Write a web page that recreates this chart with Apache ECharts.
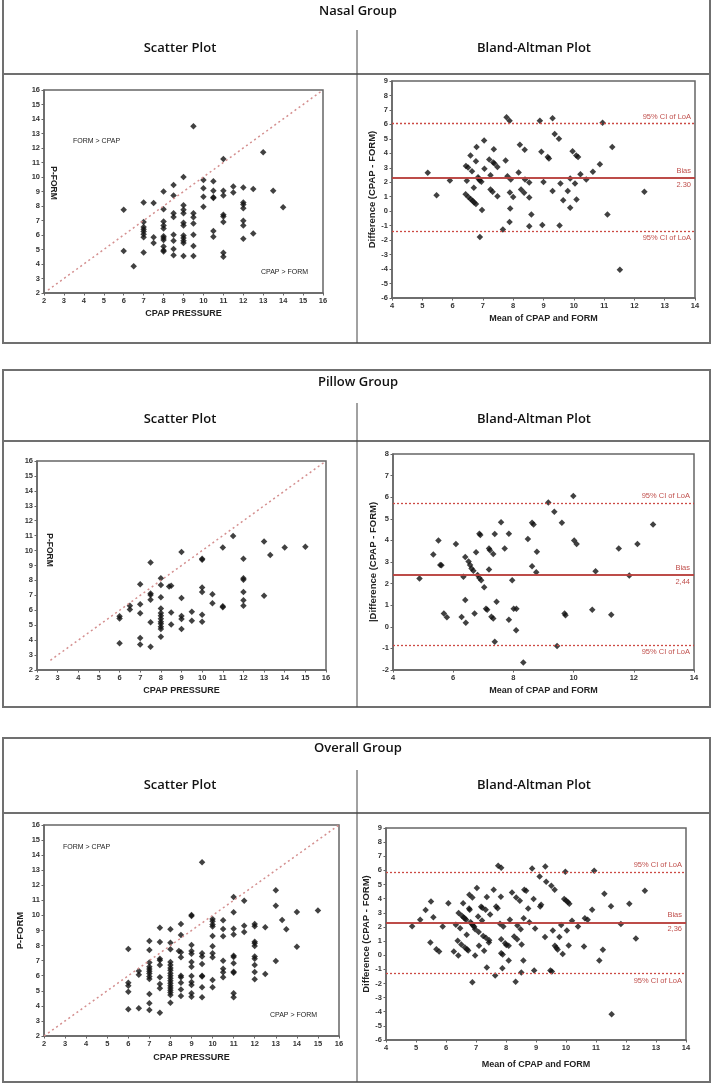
<!DOCTYPE html>
<html><head><meta charset="utf-8">
<script src="https://cdn.jsdelivr.net/npm/echarts/dist/echarts.min.js"></script>
<style>html,body{margin:0;padding:0;background:#fff}#c{width:712px;height:1085px}</style>
</head><body><div id="c"></div><script>
// ---------- DATA ----------
const groupTitles = ['Nasal Group', 'Pillow Group', 'Overall Group'];
const panelTitles = ['Scatter Plot', 'Bland-Altman Plot'];

const nasalScatter = [
[6,7.75],[6,4.9],[6.5,3.85],
[7,8.25],[7,6.9],[7,6.55],[7,6.4],[7,6.25],[7,6.05],[7,5.85],[7,4.8],
[7.5,8.2],[7.5,5.85],[7.5,5.45],
[8,9.0],[8,7.78],[8,6.93],[8,6.65],[8,6.45],[8,5.92],[8,5.8],[8,5.65],[8,5.2],[8,4.95],[8,4.87],
[8.5,9.45],[8.5,8.72],[8.5,7.5],[8.5,7.25],[8.5,6.02],[8.5,5.6],[8.5,5.03],[8.5,4.6],
[9,10.0],[9,8.05],[9,7.75],[9,7.5],[9,6.85],[9,6.65],[9,5.97],[9,5.8],[9,5.6],[9,5.45],[9,4.55],
[9.5,13.5],[9.5,7.5],[9.5,7.23],[9.5,6.8],[9.5,6.02],[9.5,5.24],[9.5,4.55],
[10,9.8],[10,9.23],[10,8.63],[10,7.95],
[10.5,9.7],[10.5,9.05],[10.5,8.6],[10.5,8.55],[10.5,6.27],[10.5,5.88],
[11,11.25],[11,9.05],[11,8.72],[11,7.4],[11,7.28],[11,6.9],[11,4.78],[11,4.5],
[11.5,9.35],[11.5,8.93],
[12,9.28],[12,8.25],[12,8.1],[12,7.85],[12,6.98],[12,6.66],[12,5.74],
[12.5,9.18],[12.5,6.1],
[13,11.7],[13.5,9.05],[14,7.92]
];
const nasalBA = [
[5.18,2.65],[5.47,1.11],[5.91,2.13],[6.44,3.12],[6.51,3.02],[6.47,2.1],[6.43,1.18],[6.52,0.99],
[6.59,3.85],[6.64,2.77],[6.6,0.83],[6.66,0.72],[6.71,0.6],[6.77,0.49],[6.77,3.46],[6.79,4.43],
[6.7,1.62],[6.84,2.35],[6.86,2.22],[6.9,2.12],[6.95,2.03],[6.97,0.09],[6.9,-1.78],[7.04,4.89],
[7.05,2.93],[7.21,3.58],[7.25,2.49],[7.25,1.5],[7.32,1.34],[7.36,4.29],[7.34,3.37],[7.38,3.3],
[7.48,3.05],[7.48,1.04],[7.66,-1.27],[7.75,3.51],[7.78,6.49],[7.88,6.25],[7.81,2.42],[7.92,2.19],
[7.89,1.29],[7.9,0.18],[7.88,-0.74],[8.0,0.99],[8.18,2.68],[8.22,4.59],[8.26,1.5],[8.36,1.27],
[8.38,4.25],[8.39,2.19],[8.53,1.98],[8.53,0.95],[8.53,-1.04],[8.6,-0.23],[8.88,6.25],[8.93,4.11],
[9.0,2.01],[8.96,-0.95],[9.3,6.42],[9.37,5.33],[9.3,1.39],[9.14,3.74],[9.18,3.65],[9.51,5.01],
[9.56,1.92],[9.53,-0.99],[9.65,0.76],[9.8,1.39],[9.88,2.26],[9.88,0.23],[9.96,4.15],[10.04,1.92],
[10.08,3.85],[10.14,3.74],[10.09,0.81],[10.22,2.56],[10.41,2.19],[10.63,2.72],[10.86,3.25],
[10.95,6.12],[11.27,4.43],[11.11,-0.23],[11.52,-4.04],[12.33,1.34]
];
const nasalLimits = [6.05, 2.31, -1.38];   // upper LoA, bias, lower LoA
const nasalBiasText = '2.30';

const pillowScatter = [
[6,5.6],[6,5.45],[6,3.8],
[6.5,6.3],[6.5,6.05],
[7,7.75],[7,6.4],[7,5.8],[7,4.15],[7,3.7],
[7.5,9.2],[7.5,7.12],[7.5,7.02],[7.5,6.7],[7.5,5.2],[7.5,3.55],
[8,8.15],[8,7.7],[8,6.87],[8,6.12],[8,5.82],[8,5.64],[8,5.44],[8,5.24],[8,5.09],[8,4.9],[8,4.75],[8,4.22],
[8.4,7.6],[8.5,7.65],[8.5,5.85],[8.5,5.05],
[9,9.9],[9,6.82],[9,5.62],[9,5.42],[9,4.75],
[9.5,5.9],[9.5,5.3],
[10,9.45],[10,9.38],[10,7.52],[10,7.22],[10,5.7],[10,5.23],
[10.5,7.07],[10.5,6.47],
[11,10.2],[11,6.27],[11,6.2],
[11.5,10.97],
[12,9.45],[12,8.14],[12,8.05],[12,7.22],[12,6.67],[12,6.3],
[13,10.6],[13,6.98],
[13.3,9.7],[14,10.2],[15,10.25]
];
const pillowBA = [
[4.88,2.24],[5.34,3.35],[5.51,3.99],[5.57,2.86],[5.61,2.85],[5.69,0.61],[5.79,0.44],[6.09,3.83],
[6.28,0.45],[6.34,2.32],[6.4,3.23],[6.4,1.24],[6.42,0.19],[6.51,3.02],[6.56,2.86],[6.61,2.7],
[6.67,2.6],[6.71,0.61],[6.76,3.45],[6.81,2.4],[6.87,4.31],[6.9,4.25],[6.87,2.26],[6.93,2.15],
[7.03,1.83],[7.09,0.84],[7.13,0.79],[7.19,3.62],[7.22,3.54],[7.19,2.65],[7.27,0.47],[7.33,0.39],
[7.33,3.37],[7.38,4.3],[7.38,-0.69],[7.44,1.16],[7.59,4.84],[7.71,3.62],[7.85,4.31],[7.85,0.33],
[8.01,0.84],[8.1,0.84],[7.96,2.15],[8.09,-0.16],[8.33,-1.65],[8.48,4.06],[8.62,2.8],[8.62,4.82],
[8.67,4.74],[8.76,2.52],[8.78,3.48],[9.16,5.75],[9.36,5.33],[9.45,-0.89],[9.61,4.82],[9.7,0.61],
[9.73,0.53],[9.99,6.06],[10.02,3.99],[10.1,3.83],[10.73,2.57],[10.62,0.79],[11.25,0.56],[11.5,3.62],
[11.85,2.38],[12.12,3.83],[12.64,4.74]
];
const pillowLimits = [5.73, 2.39, -0.86];
const pillowBiasText = '2,44';

const overallScatter = [
[6,7.77],[6,5.54],[6,5.34],[6,4.94],[6,3.77],
[6.5,6.31],[6.5,6.07],[6.5,3.84],
[7,8.3],[7,7.71],[7,6.87],[7,6.6],[7,6.45],[7,6.29],[7,6.14],[7,5.94],[7,5.78],[7,4.79],[7,4.17],[7,3.73],
[7.5,9.19],[7.5,8.24],[7.5,7.13],[7.5,7.02],[7.5,6.71],[7.5,5.89],[7.5,5.45],[7.5,5.16],[7.5,3.55],
[8,9.08],[8,8.19],[8,7.75],[8,6.91],[8,6.71],[8,6.51],[8,6.36],[8,6.16],[8,6.0],[8,5.83],[8,5.67],[8,5.5],[8,5.34],[8,5.19],[8,5.03],[8,4.88],[8,4.72],[8,4.21],
[8.5,9.43],[8.5,8.7],[8.4,7.64],[8.5,7.55],[8.5,7.22],[8.5,6.0],[8.5,5.89],[8.5,5.54],[8.5,5.08],[8.5,4.65],
[9,10.03],[9,9.96],[9,8.04],[9,7.64],[9,7.46],[9,6.91],[9,6.6],[9,5.98],[9,5.58],[9,5.38],[9,4.83],[9,4.61],
[9.5,13.53],[9.5,7.49],[9.5,7.27],[9.5,6.78],[9.5,6.0],[9.5,5.94],[9.5,5.23],[9.5,4.57],
[10,9.77],[10,9.61],[10,9.39],[10,9.26],[10,8.64],[10,7.95],[10,7.49],[10,7.22],[10,5.72],[10,5.23],
[10.5,9.68],[10.5,9.1],[10.5,8.62],[10.5,7.0],[10.5,6.47],[10.5,6.23],[10.5,5.89],
[11,11.23],[11,10.21],[11,9.12],[11,8.73],[11,7.33],[11,7.24],[11,6.82],[11,6.27],[11,6.2],[11,4.83],[11,4.57],
[11.5,10.98],[11.5,9.32],[11.5,8.9],
[12,9.43],[12,9.28],[12,8.26],[12,8.15],[12,7.97],[12,7.27],[12,7.13],[12,6.71],[12,6.25],[12,5.76],
[12.5,9.21],[12.5,6.12],
[13,11.67],[13,10.65],[13,6.98],
[13.3,9.7],[13.5,9.08],[14,10.23],[14,7.93],[15,10.32]
];
const overallBA = [
[4.87,2.05],[5.14,2.5],[5.32,3.19],[5.48,0.9],[5.5,3.8],[5.58,2.69],[5.68,0.42],[5.77,0.26],
[5.89,2.03],[6.08,3.68],[6.26,0.26],[6.33,2.15],[6.39,1.02],[6.41,-0.02],[6.42,2.98],[6.47,1.91],
[6.51,0.75],[6.57,3.68],[6.53,2.79],[6.59,2.67],[6.63,2.6],[6.67,2.5],[6.69,1.44],[6.63,0.54],
[6.7,0.42],[6.74,0.33],[6.77,3.31],[6.79,3.21],[6.78,4.28],[6.82,2.34],[6.86,2.2],[6.88,4.09],
[6.88,-1.91],[6.9,2.1],[6.94,2.01],[6.97,1.84],[6.97,-0.02],[7.03,4.75],[7.07,2.74],[7.09,1.65],
[7.1,0.66],[7.17,3.42],[7.21,3.35],[7.2,2.46],[7.24,1.35],[7.27,0.31],[7.32,3.21],[7.36,4.11],
[7.33,1.23],[7.36,-0.87],[7.44,1.06],[7.47,2.88],[7.43,0.9],[7.59,4.63],[7.64,-1.44],[7.67,3.45],
[7.72,3.33],[7.74,6.33],[7.8,2.22],[7.84,6.19],[7.83,4.13],[7.84,1.13],[7.84,0.14],[7.89,0.05],
[7.88,-0.92],[7.91,2.03],[7.97,0.85],[8.01,0.73],[8.09,0.66],[8.09,-0.38],[8.13,2.5],[8.2,4.44],
[8.27,1.32],[8.32,-1.87],[8.34,4.09],[8.37,1.13],[8.38,2.1],[8.46,3.85],[8.49,1.84],[8.52,0.75],
[8.51,-1.23],[8.58,-0.38],[8.59,2.62],[8.61,4.63],[8.67,4.56],[8.74,3.31],[8.78,2.34],[8.87,6.14],
[8.92,3.97],[8.97,1.89],[8.94,-1.09],[9.12,5.57],[9.17,3.57],[9.14,3.45],[9.3,1.28],[9.31,6.28],
[9.34,5.2],[9.48,-1.09],[9.53,-1.16],[9.51,4.91],[9.56,1.75],[9.62,4.63],[9.63,0.66],[9.68,0.52],
[9.72,0.4],[9.78,1.28],[9.84,2.13],[9.89,0.09],[9.94,3.97],[10.0,3.87],[10.06,3.76],[10.11,3.64],
[9.98,5.9],[10.03,1.75],[10.09,0.68],[10.2,2.43],[10.4,2.03],[10.6,0.61],[10.63,2.62],[10.72,2.5],
[10.87,3.21],[10.94,5.98],[11.11,-0.38],[11.23,0.38],[11.28,4.35],[11.5,3.47],[11.52,-4.18],
[11.83,2.2],[12.11,3.64],[12.33,1.18],[12.63,4.56]
];
const overallLimits = [5.9, 2.33, -1.3];
const overallBiasText = '2,36';

// identity-line endpoints (x = y) as drawn in each scatter panel
const nasalIdentity = [[2.2,2.2],[16,16]];
const pillowIdentity = [[2.65,2.65],[16,16]];
const overallIdentity = [[2,2],[16,16]];

// ---------- LAYOUT / STYLE ----------
const grids = [
  {left:44, top:90, width:279, height:203},
  {left:392, top:81, width:303, height:217},
  {left:37, top:461, width:289, height:209},
  {left:393, top:454, width:301, height:216},
  {left:44, top:825, width:295, height:211},
  {left:386, top:828, width:300, height:212}
];
const FONT = 'Liberation Sans';
const RED = '#c0504d';
const tickLbl = {fontFamily:FONT, fontSize:7.5, fontWeight:'bold', color:'#333', margin:4};
const axLine = {show:true, onZero:false, lineStyle:{color:'#666', width:1.5}};
const axTick = {show:true, length:2.5, lineStyle:{color:'#666'}};
const nameStyle = {fontFamily:FONT, fontSize:9, fontWeight:'bold', color:'#222'};

function xAx(gi, min, max, interval, name, gap){
  return {type:'value', gridIndex:gi, min, max, interval, name, nameLocation:'middle', nameGap:gap,
    nameTextStyle:nameStyle, axisLine:axLine, axisTick:axTick, axisLabel:tickLbl, splitLine:{show:false}};
}
function yAx(gi, min, max, interval, name, gap){
  return {type:'value', gridIndex:gi, min, max, interval, name, nameLocation:'middle', nameGap:gap,
    nameRotate:90, nameTextStyle:Object.assign({}, nameStyle, {fontSize:9.5}),
    axisLine:axLine, axisTick:axTick, axisLabel:tickLbl, splitLine:{show:false}};
}
function pts(i, data){
  return {type:'scatter', xAxisIndex:i, yAxisIndex:i, data, symbol:'diamond', symbolSize:6.5,
    itemStyle:{color:'#111'}, silent:true};
}
function identity(i, data){
  return {type:'line', xAxisIndex:i, yAxisIndex:i, data, symbol:'none', silent:true,
    lineStyle:{color:'#d48f8f', width:1.5, type:[2,3]}};
}
function baLines(i, lim, biasText){
  const lab = (t, pos) => ({show:true, formatter:t, position:pos, color:RED, fontFamily:FONT, fontSize:7.5, distance:[4,3]});
  const dash = {type:[2,2], color:'#cc4a44', width:1.3};
  const solid = {type:'solid', color:'#b8403e', width:1.5};
  return {type:'scatter', xAxisIndex:i, yAxisIndex:i, data:[], silent:true,
    markLine:{symbol:'none', silent:true, animation:false, data:[
      {yAxis:lim[0], lineStyle:dash, label:lab('95% CI of LoA','insideEndTop')},
      {yAxis:lim[1], lineStyle:solid, label:lab('Bias','insideEndTop')},
      {yAxis:lim[1], lineStyle:solid, label:lab(biasText,'insideEndBottom')},
      {yAxis:lim[2], lineStyle:dash, label:lab('95% CI of LoA','insideEndBottom')}
    ]}};
}

// ---------- FRAMES ----------
const frameColor = '#707070';
const boxes = [
  {top:-2, head:74, div:30, bottom:343, title:11, sub:48},
  {top:370, head:441, div:403, bottom:707, title:382, sub:419},
  {top:738, head:813, div:770, bottom:1082, title:748, sub:785}
];
const graphics = [];
boxes.forEach((b, k) => {
  graphics.push({type:'rect', shape:{x:3, y:b.top, width:707, height:b.bottom-b.top}, style:{fill:null, stroke:frameColor, lineWidth:2}, silent:true});
  graphics.push({type:'line', shape:{x1:3, y1:b.head, x2:710, y2:b.head}, style:{stroke:frameColor, lineWidth:2}, silent:true});
  graphics.push({type:'line', shape:{x1:357, y1:b.div, x2:357, y2:b.bottom}, style:{stroke:'#444', lineWidth:1}, silent:true});
  const tf = {fontFamily:'Open Sans', fontWeight:600, fontSize:13, fill:'#111', textAlign:'center', textVerticalAlign:'middle'};
  graphics.push({type:'text', x:358, y:b.title, style:Object.assign({text:groupTitles[k]}, tf), silent:true});
  graphics.push({type:'text', x:180, y:b.sub, style:Object.assign({text:panelTitles[0]}, tf), silent:true});
  graphics.push({type:'text', x:534, y:b.sub, style:Object.assign({text:panelTitles[1]}, tf), silent:true});
});
// in-plot annotations
const ann = {fontFamily:FONT, fontSize:7, fill:'#222'};
graphics.push({type:'text', x:73, y:141, style:Object.assign({text:'FORM > CPAP', textVerticalAlign:'middle'}, ann), silent:true});
graphics.push({type:'text', x:261, y:272, style:Object.assign({text:'CPAP > FORM', textVerticalAlign:'middle'}, ann), silent:true});
graphics.push({type:'text', x:63, y:847, style:Object.assign({text:'FORM > CPAP', textVerticalAlign:'middle'}, ann), silent:true});
graphics.push({type:'text', x:270, y:1015, style:Object.assign({text:'CPAP > FORM', textVerticalAlign:'middle'}, ann), silent:true});
// P-FORM labels drawn inside the plot (rotated clockwise)
const pf = {fontFamily:FONT, fontSize:8.5, fontWeight:'bold', fill:'#222', text:'P-FORM', textAlign:'center', textVerticalAlign:'middle'};
graphics.push({type:'text', x:53, y:183, rotation:-Math.PI/2, style:Object.assign({}, pf), silent:true});
graphics.push({type:'text', x:49, y:550, rotation:-Math.PI/2, style:Object.assign({}, pf), silent:true});

const option = {
  animation:false,
  backgroundColor:'#fff',
  grid: grids.map(g => Object.assign({show:true, borderColor:'#666', borderWidth:1.5, backgroundColor:'#fff'}, g)),
  xAxis: [
    xAx(0, 2, 16, 1, 'CPAP PRESSURE', 16),
    xAx(1, 4, 14, 1, 'Mean of CPAP and FORM', 16),
    xAx(2, 2, 16, 1, 'CPAP PRESSURE', 16),
    xAx(3, 4, 14, 2, 'Mean of CPAP and FORM', 16),
    xAx(4, 2, 16, 1, 'CPAP PRESSURE', 17),
    xAx(5, 4, 14, 1, 'Mean of CPAP and FORM', 20)
  ],
  yAxis: [
    yAx(0, 2, 16, 1, '', 0),
    yAx(1, -6, 9, 1, 'Difference (CPAP - FORM)', 12),
    yAx(2, 2, 16, 1, '', 0),
    yAx(3, -2, 8, 1, '|Difference (CPAP - FORM)', 14),
    yAx(4, 2, 16, 1, 'P-FORM', 19),
    yAx(5, -6, 9, 1, 'Difference (CPAP - FORM)', 15)
  ],
  series: [
    identity(0, nasalIdentity), pts(0, nasalScatter),
    baLines(1, nasalLimits, nasalBiasText), pts(1, nasalBA),
    identity(2, pillowIdentity), pts(2, pillowScatter),
    baLines(3, pillowLimits, pillowBiasText), pts(3, pillowBA),
    identity(4, overallIdentity), pts(4, overallScatter),
    baLines(5, overallLimits, overallBiasText), pts(5, overallBA)
  ],
  graphic: graphics
};
const chart = echarts.init(document.getElementById('c'), null, {renderer:'canvas'});
chart.setOption(option);
</script></body></html>
